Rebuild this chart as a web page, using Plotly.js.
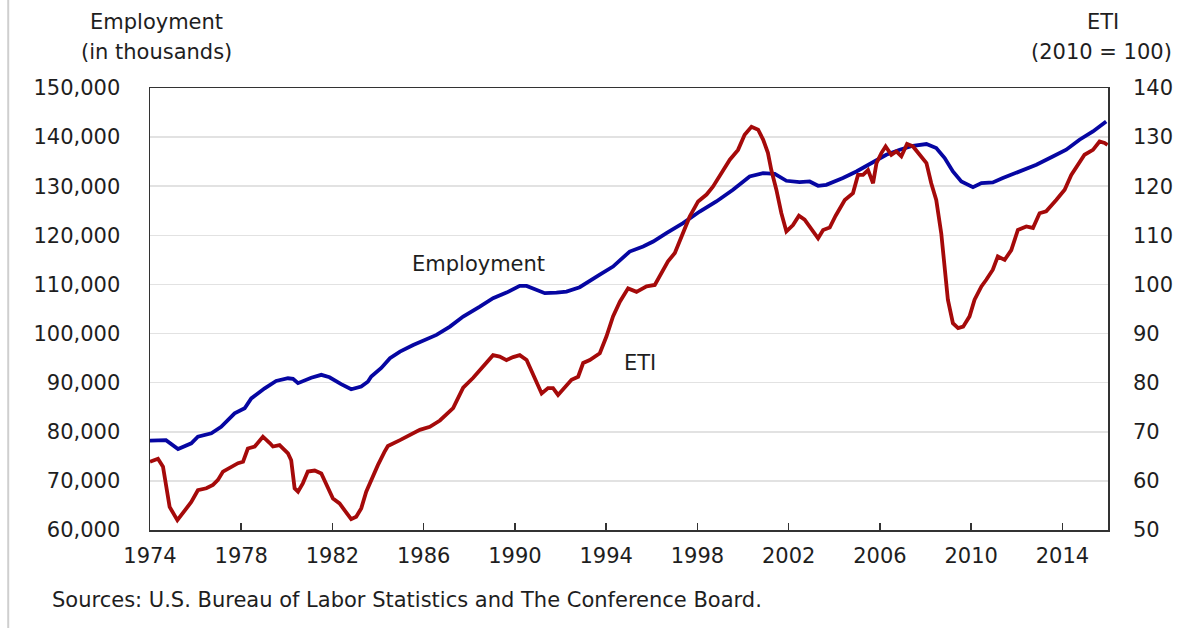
<!DOCTYPE html>
<html>
<head>
<meta charset="utf-8">
<script src="https://cdn.plot.ly/plotly-3.0.1.min.js"></script>
<style>
  html, body { margin: 0; padding: 0; background: #ffffff; }
  #chart { width: 1195px; height: 628px; }
</style>
</head>
<body>
<div id="chart"></div>
<script>
// Employment (thousands)
const empYears = [1974.0, 1974.70, 1975.23, 1975.81, 1976.10, 1976.69, 1977.12, 1977.71, 1978.15, 1978.44,
  1979.03, 1979.53, 1980.05, 1980.27, 1980.49, 1981.07, 1981.51, 1981.87, 1982.38, 1982.82,
  1983.26, 1983.55, 1983.70, 1984.14, 1984.52, 1984.96, 1985.54, 1986.13, 1986.56, 1987.15,
  1987.73, 1988.46, 1989.04, 1989.63, 1990.21, 1990.51, 1990.95, 1991.31, 1991.82, 1992.26,
  1992.84, 1993.43, 1993.72, 1994.30, 1995.03, 1995.62, 1996.06, 1996.64, 1997.37, 1998.10,
  1998.83, 1999.56, 2000.29, 2000.88, 2001.39, 2001.90, 2002.48, 2002.92, 2003.29, 2003.65,
  2004.38, 2004.97, 2005.63, 2006.28, 2006.87, 2007.45, 2008.04, 2008.47, 2008.84, 2009.20,
  2009.57, 2010.08, 2010.45, 2010.95, 2011.39, 2012.12, 2012.86, 2013.58, 2014.17, 2014.75,
  2015.34, 2015.92];
const empValues = [78200, 78300, 76500, 77650, 79000, 79700, 81000, 83750, 84800, 86800,
  88850, 90350, 90900, 90800, 89900, 91000, 91600, 91100, 89700, 88650,
  89200, 90200, 91250, 93000, 94970, 96320, 97680, 98840, 99720, 101410,
  103450, 105490, 107200, 108340, 109710, 109710, 108890, 108220, 108340, 108550,
  109440, 111280, 112000, 113640, 116700, 117720, 118740, 120450, 122490, 124850,
  126890, 129270, 131990, 132670, 132530, 131110, 130840, 130970, 130090, 130290,
  131660, 133000, 134710, 136410, 137430, 138240, 138590, 137770, 135730, 133000,
  130970, 129820, 130640, 130760, 131660, 133000, 134370, 136060, 137430, 139460,
  141160, 143200];

// Employment Trends Index (2010 = 100)
const etiYears = [1974.0, 1974.35, 1974.57, 1974.86, 1975.20, 1975.52, 1975.81, 1976.10, 1976.47, 1976.76,
  1976.98, 1977.20, 1977.56, 1977.86, 1978.08, 1978.29, 1978.59, 1978.95, 1979.25, 1979.39,
  1979.68, 1980.05, 1980.19, 1980.34, 1980.49, 1980.70, 1980.92, 1981.22, 1981.51, 1981.80,
  1982.02, 1982.31, 1982.53, 1982.82, 1983.04, 1983.26, 1983.48, 1983.70, 1983.99, 1984.28,
  1984.43, 1984.96, 1985.83, 1986.27, 1986.71, 1987.29, 1987.73, 1988.17, 1988.46, 1988.75,
  1989.04, 1989.33, 1989.63, 1989.92, 1990.21, 1990.51, 1990.73, 1990.95, 1991.17, 1991.45,
  1991.67, 1991.89, 1992.19, 1992.48, 1992.77, 1992.99, 1993.28, 1993.72, 1994.01, 1994.30,
  1994.60, 1994.96, 1995.33, 1995.77, 1996.13, 1996.42, 1996.71, 1997.01, 1997.30, 1997.66,
  1998.03, 1998.40, 1998.68, 1999.05, 1999.42, 1999.78, 2000.07, 2000.37, 2000.66, 2000.88,
  2001.09, 2001.24, 2001.46, 2001.68, 2001.90, 2002.19, 2002.45, 2002.70, 2002.92, 2003.07,
  2003.29, 2003.51, 2003.80, 2004.06, 2004.46, 2004.82, 2005.04, 2005.26, 2005.48, 2005.70,
  2005.85, 2006.07, 2006.25, 2006.50, 2006.72, 2006.94, 2007.19, 2007.45, 2007.74, 2008.04,
  2008.25, 2008.47, 2008.69, 2008.84, 2008.98, 2009.20, 2009.43, 2009.65, 2009.93, 2010.15,
  2010.45, 2010.67, 2010.95, 2011.17, 2011.47, 2011.76, 2012.05, 2012.42, 2012.71, 2013.00,
  2013.29, 2013.73, 2014.10, 2014.39, 2014.68, 2014.97, 2015.34, 2015.63, 2015.85, 2015.98];
const etiValues = [63.9, 64.5, 62.9, 54.7, 52.0, 54.0, 55.7, 58.1, 58.5, 59.2,
  60.2, 61.9, 62.9, 63.6, 63.9, 66.6, 67.0, 69.0, 67.7, 67.0,
  67.3, 65.6, 64.2, 58.5, 57.8, 59.5, 61.9, 62.1, 61.5, 58.5,
  56.4, 55.4, 54.1, 52.2, 52.7, 54.4, 57.8, 60.2, 63.2, 65.9,
  67.1, 68.3, 70.4, 71.0, 72.3, 74.8, 79.0, 81.0, 82.6, 84.0,
  85.6, 85.3, 84.6, 85.2, 85.6, 84.6, 82.2, 79.9, 77.8, 78.9,
  78.9, 77.5, 79.2, 80.6, 81.2, 84.0, 84.6, 86.0, 89.4, 93.5,
  96.5, 99.2, 98.5, 99.6, 99.9, 102.3, 104.7, 106.4, 109.8, 113.8,
  116.9, 118.3, 119.9, 122.7, 125.4, 127.4, 130.5, 132.1, 131.5, 129.5,
  126.8, 123.3, 119.3, 114.5, 110.8, 112.1, 114.0, 113.2, 111.8, 111.1,
  109.4, 111.1, 111.6, 114.0, 117.2, 118.6, 122.3, 122.3, 123.3, 120.6,
  124.7, 126.8, 128.1, 126.4, 127.1, 126.1, 128.6, 128.1, 126.4, 124.7,
  120.6, 117.2, 110.4, 103.6, 96.9, 92.1, 91.1, 91.4, 93.5, 96.9,
  99.6, 101.0, 103.0, 105.7, 105.0, 107.0, 111.1, 111.8, 111.5, 114.5,
  114.9, 117.2, 119.3, 122.3, 124.4, 126.4, 127.4, 129.1, 128.8, 128.4];

const xTickVals = [1974, 1978, 1982, 1986, 1990, 1994, 1998, 2002, 2006, 2010, 2014];
const xTickText = ['1974', '1978', '1982', '1986', '1990', '1994', '1998', '2002', '2006', '2010', '2014'];

const FONT = 'DejaVu Sans, Open Sans, sans-serif';
const TXT = '#1e1e1e';
const FS = 21;

const traces = [
  {
    x: empYears, y: empValues, type: 'scatter', mode: 'lines', name: 'Employment',
    line: { color: '#0606a2', width: 3.8 }, yaxis: 'y', hoverinfo: 'skip'
  },
  {
    x: etiYears, y: etiValues, type: 'scatter', mode: 'lines', name: 'ETI',
    line: { color: '#a50a0a', width: 3.8 }, yaxis: 'y2', hoverinfo: 'skip'
  }
];

const layout = {
  width: 1195, height: 628,
  margin: { l: 150, r: 87, t: 88, b: 98 },
  paper_bgcolor: '#ffffff', plot_bgcolor: '#ffffff',
  showlegend: false,
  font: { family: FONT, size: FS, color: TXT },
  xaxis: {
    range: [1974, 2016], tickvals: xTickVals, ticktext: xTickText,
    ticks: 'inside', ticklen: 7, tickwidth: 1.5, tickcolor: '#333',
    showgrid: false, zeroline: false,
    showline: true, mirror: true, linecolor: '#333', linewidth: 1.5,
    ticklabelstandoff: 6,
    tickfont: { family: FONT, size: FS, color: TXT }
  },
  yaxis: {
    range: [60000, 150000], dtick: 10000, tickformat: ',d',
    ticks: '', showgrid: true, gridcolor: '#e2e2e2', gridwidth: 1.5,
    zeroline: false, showline: true, mirror: true, linecolor: '#333', linewidth: 1.5,
    ticklabelstandoff: 24,
    tickfont: { family: FONT, size: FS, color: TXT }
  },
  yaxis2: {
    range: [50, 140], dtick: 10, overlaying: 'y', side: 'right',
    ticks: '', showgrid: false, zeroline: false, showline: false,
    ticklabelstandoff: 24,
    tickfont: { family: FONT, size: FS, color: TXT }
  },
  annotations: [
    { text: 'Employment', xref: 'paper', yref: 'paper', x: 0.0073, y: 1.149, xanchor: 'center', yanchor: 'middle', showarrow: false, font: { family: FONT, size: FS, color: TXT } },
    { text: '(in thousands)', xref: 'paper', yref: 'paper', x: 0.0073, y: 1.0814, xanchor: 'center', yanchor: 'middle', showarrow: false, font: { family: FONT, size: FS, color: TXT } },
    { text: 'ETI', xref: 'paper', yref: 'paper', x: 0.9948, y: 1.149, xanchor: 'center', yanchor: 'middle', showarrow: false, font: { family: FONT, size: FS, color: TXT } },
    { text: '(2010 = 100)', xref: 'paper', yref: 'paper', x: 0.9927, y: 1.0814, xanchor: 'center', yanchor: 'middle', showarrow: false, font: { family: FONT, size: FS, color: TXT } },
    { text: 'Employment', xref: 'paper', yref: 'paper', x: 0.3434, y: 0.602, xanchor: 'center', yanchor: 'middle', showarrow: false, font: { family: FONT, size: FS, color: TXT } },
    { text: 'ETI', xref: 'paper', yref: 'paper', x: 0.5115, y: 0.378, xanchor: 'center', yanchor: 'middle', showarrow: false, font: { family: FONT, size: FS, color: TXT } },
    { text: 'Sources: U.S. Bureau of Labor Statistics and The Conference Board.', xref: 'paper', yref: 'paper', x: -0.1044, y: -0.158, xanchor: 'left', yanchor: 'middle', showarrow: false, font: { family: FONT, size: FS, color: TXT } }
  ],
  shapes: [
    { type: 'line', xref: 'paper', yref: 'paper', x0: -0.148, x1: -0.148, y0: -0.23, y1: 1.21, line: { color: '#cfcfcf', width: 2 } }
  ]
};

Plotly.newPlot('chart', traces, layout, { staticPlot: true, displayModeBar: false });
</script>
</body>
</html>
